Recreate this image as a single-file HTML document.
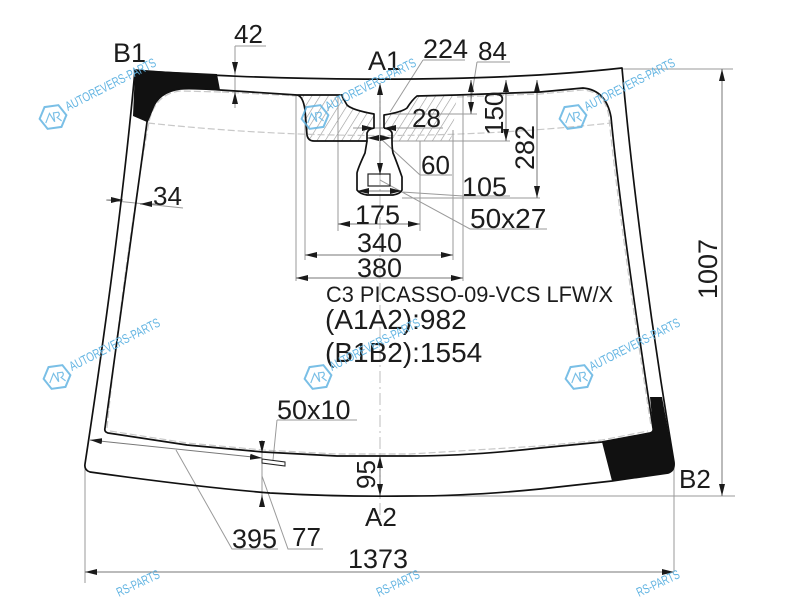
<!DOCTYPE html>
<html><head><meta charset="utf-8"><style>html,body{margin:0;padding:0;background:#fff;width:800px;height:600px;overflow:hidden}svg{display:block}text{font-family:"Liberation Sans",sans-serif;fill:#1c1c1c}</style></head><body>
<svg width="800" height="600" viewBox="0 0 800 600" xmlns="http://www.w3.org/2000/svg">
<defs>
<pattern id="h" width="7" height="7" patternUnits="userSpaceOnUse" patternTransform="rotate(-58)"><rect width="7" height="7" fill="#fff"/><line x1="0" y1="0" x2="7" y2="0" stroke="#999" stroke-width="1.200"/></pattern>
<marker id="a" markerWidth="12" markerHeight="6" refX="12" refY="3" orient="auto-start-reverse" markerUnits="userSpaceOnUse"><path d="M0 0L12 3L0 6Z" fill="#1a1a1a"/></marker>
<g id="logo"><g transform="rotate(-8)"><path d="M-13.500 0L-7 -11L7 -11L13.500 0L7 11L-7 11Z" fill="none" stroke="#62b4e2" stroke-width="2"/><path d="M-8 5L-3 -4L1 5M1 5L1 -4L6 -4Q8 -1 4 1L8 5" fill="none" stroke="#62b4e2" stroke-width="1.200"/></g></g>
</defs>
<rect width="800" height="600" fill="#fff"/>

<path d="M296 95L300 95Q304 100 305 110L307 137Q308 141 312 141L367 141L367 132L374 128L374 114Q352 110 347 105Q344 100 343 96ZM384 128L384 115Q402 112 407 108Q412 100 417 96L457 95Q455 110 453 130Q452 140 448 141L392 141L392 133Z" fill="url(#h)"/>

<g fill="none" stroke="#c8c8c8" stroke-width="1.200" stroke-dasharray="7 3">
<path d="M148 123Q380 148 611 123"/>
<path d="M222 92L297 96M457 97L540 94L583 90Q606 92 609 118C616 190 633 310 651 426M107 428C120 300 138 180 149 122Q155 94 180 91L222 92"/>
<path d="M110 431L187 443L263 450L337 454L410 454L540 446L602 440L648 431"/>
</g>
<path d="M380 85V520" stroke="#c8c8c8" stroke-width="1.200" stroke-dasharray="12 4 2 4" fill="none"/>

<g fill="none" stroke="#9a9a9a" stroke-width="1">
<path d="M296 95V281M305 110V260M338 96V231M420 141V231M453 130V260M463 95V281"/>
<path d="M622 69H733M410 496H735M85 468V583M674 467V572"/>
<path d="M423 60H465M423 60L390 112M477 62H510M477 62L471 100M392 114H477M392 141H510M402 198H540"/>
<path d="M353 128H443M380 138L420 175H452M402 192L463 196H510M380 180L470 229H547"/>
<path d="M235 46H266M235 46V108M106 200L183 208"/>
<path d="M277 420H357M277 420L273 460M176 450L232 549H278M262 476L288 549H323"/>
<path d="M262 440V507"/>
</g>

<g fill="none" stroke="#777" stroke-width="1">
<path d="M338 224H420" marker-start="url(#a)" marker-end="url(#a)"/>
<path d="M305 255H453" marker-start="url(#a)" marker-end="url(#a)"/>
<path d="M296 278H463" marker-start="url(#a)" marker-end="url(#a)"/>
<path d="M85 572H674" marker-start="url(#a)" marker-end="url(#a)"/>
<path d="M722 69V496" marker-start="url(#a)" marker-end="url(#a)"/>
<path d="M90 440L262 458" marker-start="url(#a)" marker-end="url(#a)"/>
<path d="M380 456V496" marker-start="url(#a)" marker-end="url(#a)"/>
<path d="M380 83V175" marker-start="url(#a)" marker-end="url(#a)"/>
<path d="M357 191H402" marker-start="url(#a)" marker-end="url(#a)"/>
<path d="M367 138H392" marker-start="url(#a)" marker-end="url(#a)"/>
<path d="M506 80V141" marker-start="url(#a)" marker-end="url(#a)"/>
<path d="M537 80V198" marker-start="url(#a)" marker-end="url(#a)"/>
<path d="M471 80V114" marker-start="url(#a)" marker-end="url(#a)"/>
<path d="M362 128H374" marker-end="url(#a)"/>
<path d="M396 128H384" marker-end="url(#a)"/>
<path d="M235 62V74" marker-end="url(#a)"/>
<path d="M235 104V92" marker-end="url(#a)"/>
<path d="M107 200H123" marker-end="url(#a)"/>
<path d="M160 204H140" marker-end="url(#a)"/>
<path d="M262 441V453" marker-end="url(#a)"/>
<path d="M262 507V495" marker-end="url(#a)"/>
</g>

<path d="M135 70L217 74L220 90Q190 88 180 89Q158 92 152 110L147 122L133 116Z" fill="#111"/>
<path d="M650 397L662 397L674 462Q675 471 668 473L612 481L602 442L648 434Q654 432 653 428Z" fill="#111"/>

<g fill="none" stroke="#111" stroke-width="1.700" stroke-linejoin="round">
<path d="M135 70C250 80 470 85 622 68C632 180 650 320 674 462Q675 471 668 473L612 481L540 489Q470 496 410 496Q340 497 270 493Q197 487 90 472Q84 470 85 464C110 300 125 180 135 70Z"/>
<path d="M220 90L297 95Q303 96 305 110L307 135Q308 141 314 141L367 141L367 133Q368 129 374 128L374 114Q352 110 347 105Q344 100 342 96M297 95H343"/>
<path d="M384 128L384 115Q402 112 407 108Q412 100 417 96L457 95L540 92L583 88Q606 90 611 117C618 190 635 310 653 428Q654 432 650 433L602 442L540 448Q470 456 410 456L337 456L263 452L187 445L108 433Q104 432 105 428C122 300 140 180 147 122L152 110Q158 92 180 89Q190 88 220 90"/>
<path d="M384 128Q391 129 392 133L392 141"/>
<path d="M367 141L365 153Q358 168 357 173L357 190Q360 194 367 195L393 195Q400 194 402 190L402 177Q396 160 393 153Q392 148 392 141"/>
</g>
<rect x="368" y="174" width="22" height="12" fill="none" stroke="#222" stroke-width="1.200"/>
<path d="M262 459L285 462L285 466L262 463Z" fill="#fff" stroke="#222" stroke-width="1"/>

<g font-size="27">
<text x="113" y="62">B1</text>
<text x="234" y="43" font-size="26">42</text>
<text x="368" y="70">A1</text>
<text x="423" y="58">224</text>
<text x="478" y="60" font-size="26">84</text>
<text x="412" y="127" font-size="26">28</text>
<text x="421" y="174" font-size="26">60</text>
<text x="462" y="196">105</text>
<text x="470" y="228" font-size="28">50x27</text>
<text x="355" y="224">175</text>
<text x="357" y="252">340</text>
<text x="357" y="277">380</text>
<text x="153" y="205" font-size="26">34</text>
<text x="277" y="419">50x10</text>
<text x="232" y="548">395</text>
<text x="292" y="546" font-size="26">77</text>
<text x="348" y="568">1373</text>
<text x="365" y="526" font-size="26">A2</text>
<text x="679" y="488" font-size="26">B2</text>
<text x="325" y="329" font-size="28">(A1A2):982</text>
<text x="325" y="362" font-size="28">(B1B2):1554</text>
<text font-size="21.800" x="326" y="302">C3 PICASSO-09-VCS LFW/X</text>
<text transform="translate(503,135) rotate(-90)" font-size="26">150</text>
<text transform="translate(534,170) rotate(-90)">282</text>
<text transform="translate(717,299) rotate(-90)">1007</text>
<text transform="translate(375,489) rotate(-90)" font-size="26">95</text>
</g>

<g opacity="0.85">
<use href="#logo" x="53" y="117"/>
<use href="#logo" x="315" y="117"/>
<use href="#logo" x="573" y="117"/>
<use href="#logo" x="57" y="377"/>
<use href="#logo" x="318" y="377"/>
<use href="#logo" x="579" y="377"/>
</g>
<g font-size="13">
<text transform="translate(68,111) rotate(-27)" textLength="100" lengthAdjust="spacingAndGlyphs" style="fill:#62b4e2">AUTOREVERS-PARTS</text>
<text transform="translate(328,111) rotate(-27)" textLength="100" lengthAdjust="spacingAndGlyphs" style="fill:#62b4e2">AUTOREVERS-PARTS</text>
<text transform="translate(587,111) rotate(-27)" textLength="100" lengthAdjust="spacingAndGlyphs" style="fill:#62b4e2">AUTOREVERS-PARTS</text>
<text transform="translate(72,371) rotate(-27)" textLength="100" lengthAdjust="spacingAndGlyphs" style="fill:#62b4e2">AUTOREVERS-PARTS</text>
<text transform="translate(332,371) rotate(-27)" textLength="100" lengthAdjust="spacingAndGlyphs" style="fill:#62b4e2">AUTOREVERS-PARTS</text>
<text transform="translate(592,371) rotate(-27)" textLength="100" lengthAdjust="spacingAndGlyphs" style="fill:#62b4e2">AUTOREVERS-PARTS</text>
<text transform="translate(119,597) rotate(-25)" textLength="46" lengthAdjust="spacingAndGlyphs" style="fill:#62b4e2">RS-PARTS</text>
<text transform="translate(379,597) rotate(-25)" textLength="46" lengthAdjust="spacingAndGlyphs" style="fill:#62b4e2">RS-PARTS</text>
<text transform="translate(639,597) rotate(-25)" textLength="46" lengthAdjust="spacingAndGlyphs" style="fill:#62b4e2">RS-PARTS</text>
</g>
</svg>
</body></html>
